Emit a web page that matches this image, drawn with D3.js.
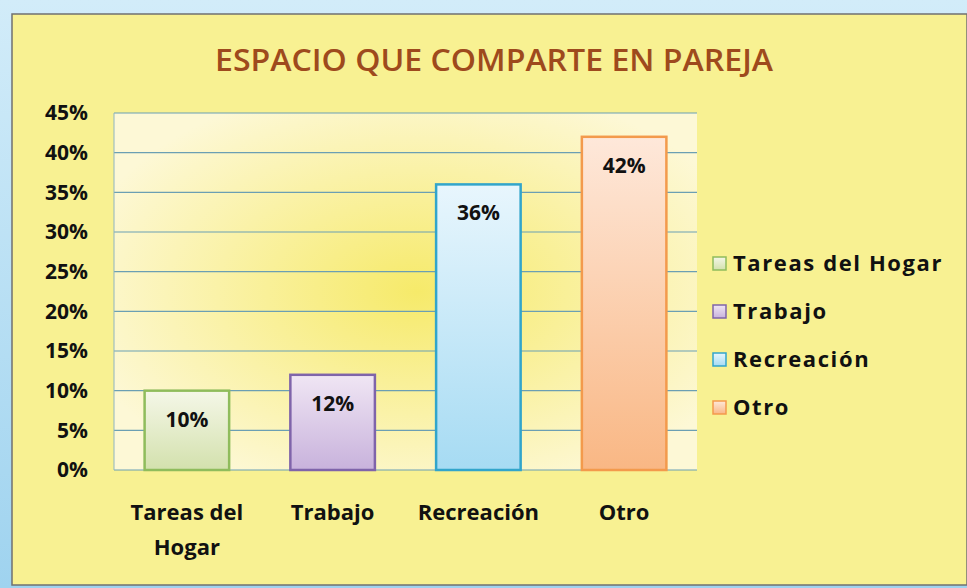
<!DOCTYPE html>
<html>
<head>
<meta charset="utf-8">
<script src="https://cdn.jsdelivr.net/npm/d3@7"></script>
<style>
  body { margin: 0; background: #b5def3; }
  svg { display: block; }
  text { font-family: "Open Sans", "Noto Sans", sans-serif; font-weight: 700; fill: #111; }
</style>
</head>
<body>
<div id="chart"></div>
<script>
var categories = ["Tareas del Hogar", "Trabajo", "Recreación", "Otro"];
var xLabels = [["Tareas del", "Hogar"], ["Trabajo"], ["Recreación"], ["Otro"]];
var values = [0.10, 0.12, 0.36, 0.42];
var yTicks = [0, 0.05, 0.10, 0.15, 0.20, 0.25, 0.30, 0.35, 0.40, 0.45];
var barTop = ["#f5f7e8", "#f0e6f4", "#e8f6fd", "#fee8da"];
var barBottom = ["#d3e1ad", "#c8b2dc", "#a6dbf3", "#f9b784"];
var barStroke = ["#8fbc5c", "#7f64aa", "#32a5cb", "#f39a4c"];

var width = 967, height = 588;
var margin = {top: 113, left: 114, right: 270, bottom: 118};

var svg = d3.select("#chart").append("svg")
    .attr("width", width)
    .attr("height", height);

var defs = svg.append("defs");

// outer frame
var frame = defs.append("linearGradient").attr("id", "frameGrad")
    .attr("x1", 0).attr("y1", 0).attr("x2", 0).attr("y2", 1);
frame.append("stop").attr("offset", "0%").attr("stop-color", "#d2ecf9");
frame.append("stop").attr("offset", "100%").attr("stop-color", "#9fd3ef");
svg.append("rect").attr("width", width).attr("height", height).attr("fill", "url(#frameGrad)");

svg.append("rect")
    .attr("x", 12).attr("y", 14)
    .attr("width", width - 12).attr("height", height - 17)
    .attr("fill", "#f8f192")
    .attr("stroke", "#707070")
    .attr("stroke-width", 1.5);

// plot area gradient
var plotGrad = defs.append("radialGradient").attr("id", "plotGrad")
    .attr("cx", "52%").attr("cy", "50%").attr("r", "60%");
plotGrad.append("stop").attr("offset", "0%").attr("stop-color", "#f6ea6a");
plotGrad.append("stop").attr("offset", "100%").attr("stop-color", "#fdf8d6");

categories.forEach(function(c, i) {
    var g = defs.append("linearGradient").attr("id", "bar" + i)
        .attr("x1", 0).attr("y1", 0).attr("x2", 0).attr("y2", 1);
    g.append("stop").attr("offset", "0%").attr("stop-color", barTop[i]);
    g.append("stop").attr("offset", "100%").attr("stop-color", barBottom[i]);
});

var plotW = width - margin.left - margin.right;
var plotH = height - margin.top - margin.bottom;

var x = d3.scaleBand().domain(categories).range([margin.left, margin.left + plotW]).paddingInner(0.42).paddingOuter(0.21);
var y = d3.scaleLinear().domain([0, 0.45]).range([margin.top + plotH, margin.top]);

svg.append("rect")
    .attr("x", margin.left).attr("y", margin.top)
    .attr("width", plotW).attr("height", plotH)
    .attr("fill", "url(#plotGrad)");

// gridlines
svg.append("g").selectAll("line")
    .data(yTicks)
    .enter().append("line")
    .attr("x1", margin.left).attr("x2", margin.left + plotW)
    .attr("y1", function(d) { return y(d); })
    .attr("y2", function(d) { return y(d); })
    .attr("stroke", "#6b9fb3")
    .attr("stroke-width", 1.2);

svg.append("line")
    .attr("x1", margin.left).attr("x2", margin.left)
    .attr("y1", margin.top).attr("y2", margin.top + plotH)
    .attr("stroke", "#8fb4c2").attr("stroke-width", 1);

// y axis
var yAxis = d3.axisLeft(y).tickValues(yTicks).tickFormat(d3.format(".0%")).tickSize(0).tickPadding(26);
var ya = svg.append("g").attr("transform", "translate(" + margin.left + ",0)").call(yAxis);
ya.select(".domain").remove();
ya.selectAll("text").attr("font-size", 21).style("font-family", "\"Open Sans\", sans-serif").style("font-weight", 700).attr("fill", "#111");

// bars
svg.append("g").selectAll("rect")
    .data(values)
    .enter().append("rect")
    .attr("x", function(d, i) { return x(categories[i]); })
    .attr("y", function(d) { return y(d); })
    .attr("width", x.bandwidth())
    .attr("height", function(d) { return y(0) - y(d); })
    .attr("fill", function(d, i) { return "url(#bar" + i + ")"; })
    .attr("stroke", function(d, i) { return barStroke[i]; })
    .attr("stroke-width", 2.5);

// value labels
svg.append("g").selectAll("text")
    .data(values)
    .enter().append("text")
    .attr("x", function(d, i) { return x(categories[i]) + x.bandwidth() / 2; })
    .attr("y", function(d) { return y(d) + 36; })
    .attr("text-anchor", "middle")
    .attr("font-size", 21)
    .text(function(d) { return Math.round(d * 100) + "%"; });

// x labels
var xl = svg.append("g").selectAll("text")
    .data(xLabels)
    .enter().append("text")
    .attr("text-anchor", "middle")
    .attr("font-size", 22)
    .attr("y", 520);
xl.each(function(lines, i) {
    var t = d3.select(this);
    lines.forEach(function(l, j) {
        t.append("tspan")
            .attr("x", x(categories[i]) + x.bandwidth() / 2)
            .attr("dy", j === 0 ? 0 : 35)
            .text(l);
    });
});

// title
svg.append("text")
    .attr("x", 494).attr("y", 71)
    .attr("text-anchor", "middle")
    .attr("font-size", 31)
    .attr("textLength", 558)
    .attr("lengthAdjust", "spacingAndGlyphs")
    .style("font-weight", 600)
    .style("fill", "#9e4a1d")
    .text("ESPACIO QUE COMPARTE EN PAREJA");

// legend
var legend = svg.append("g").selectAll("g")
    .data(categories)
    .enter().append("g")
    .attr("transform", function(d, i) { return "translate(713," + (257 + i * 48) + ")"; });
legend.append("rect")
    .attr("width", 13).attr("height", 13)
    .attr("fill", function(d, i) { return "url(#bar" + i + ")"; })
    .attr("stroke", function(d, i) { return barStroke[i]; })
    .attr("stroke-width", 1.5);
legend.append("text")
    .attr("x", 20).attr("y", 14)
    .attr("font-size", 22)
    .style("letter-spacing", "1.6px")
    .text(function(d) { return d; });
</script>
</body>
</html>
